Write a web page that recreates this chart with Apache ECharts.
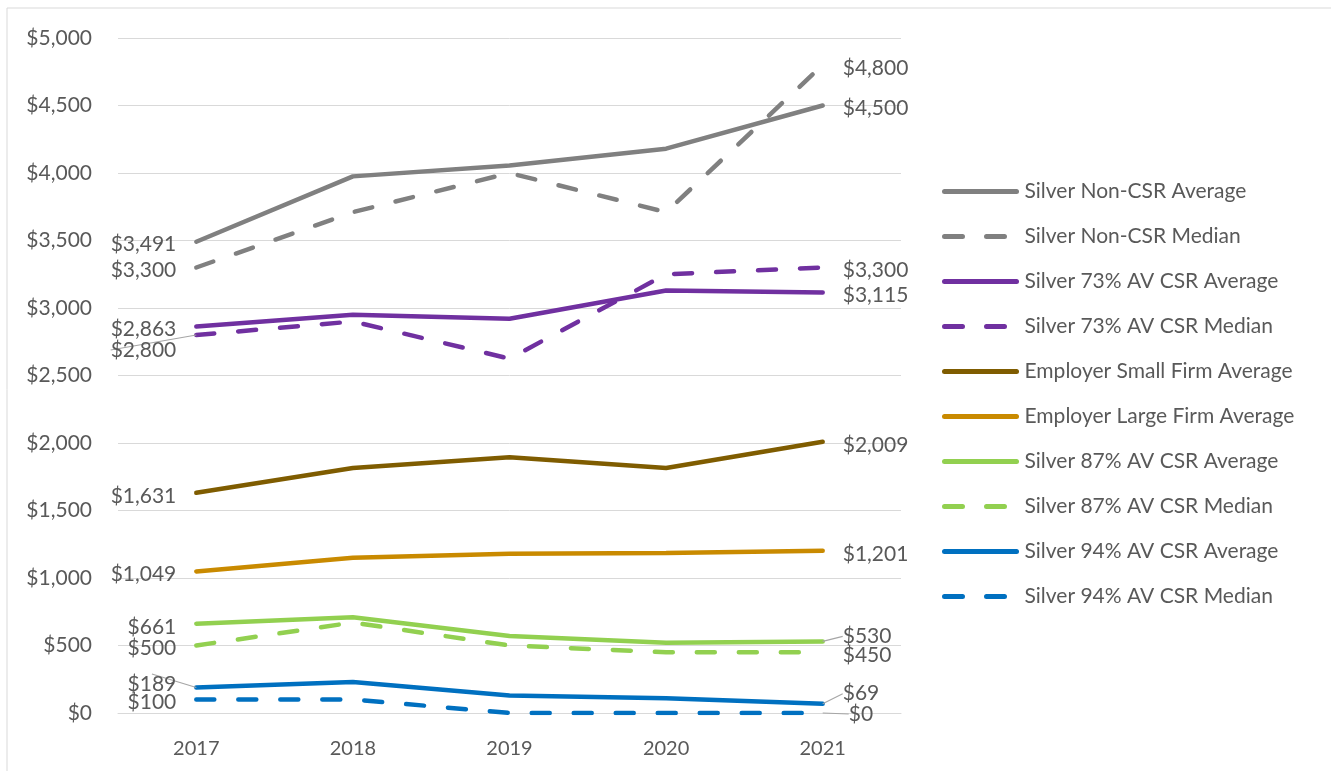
<!DOCTYPE html>
<html>
<head>
<meta charset="utf-8">
<script src="https://cdn.jsdelivr.net/npm/echarts@6/dist/echarts.min.js"></script>
<style>
  html, body { margin: 0; padding: 0; background: #fff; }
  #chart { width: 1331px; height: 771px; }
</style>
</head>
<body>
<div id="chart"></div>
<script>
// data
const years = ['2017', '2018', '2019', '2020', '2021']
const seriesNames = [
  'Silver Non-CSR Average', 'Silver Non-CSR Median',
  'Silver 73% AV CSR Average', 'Silver 73% AV CSR Median',
  'Employer Small Firm Average', 'Employer Large Firm Average',
  'Silver 87% AV CSR Average', 'Silver 87% AV CSR Median',
  'Silver 94% AV CSR Average', 'Silver 94% AV CSR Median'
]
const nonCsrAvg = [3491, 3975, 4055, 4180, 4500]
const nonCsrMed = [3300, 3710, 4000, 3710, 4800]
const csr73Avg = [2863, 2950, 2920, 3130, 3115]
const csr73Med = [2800, 2900, 2625, 3250, 3300]
const smallFirmAvg = [1631, 1815, 1895, 1815, 2009]
const largeFirmAvg = [1049, 1150, 1180, 1185, 1201]
const csr87Avg = [661, 710, 570, 520, 530]
const csr87Med = [500, 670, 500, 450, 450]
const csr94Avg = [189, 230, 130, 110, 69]
const csr94Med = [100, 100, 0, 0, 0]

const allValues = [nonCsrAvg, nonCsrMed, csr73Avg, csr73Med, smallFirmAvg,
  largeFirmAvg, csr87Avg, csr87Med, csr94Avg, csr94Med]

// styles
const colors = ['#808080', '#808080', '#7030a0', '#7030a0', '#7f5c00',
  '#c98a00', '#92d050', '#92d050', '#0070c0', '#0070c0']
const dashed = [false, true, false, true, false, false, false, true, false, true]
const textColor = '#595959'
const font = 'Lato'
const dash = [18, 24]

// label nudges: series index -> end (0 left, 1 right) -> [dx, dy, leader line]
const nudges = {
  3: { 0: [0, 12, true] },
  6: { 1: [0, -8, true] },
  8: { 0: [0, -6, true], 1: [0, -13, true] },
  9: { 1: [6, -2, true] }
}

const money = v => '$' + v.toLocaleString('en-US')

function buildData(values, si) {
  const last = values.length - 1
  return values.map((v, i) => {
    const item = { value: v }
    if (i === 0 || i === last) {
      const end = i === 0 ? 0 : 1
      const n = nudges[si] && nudges[si][end]
      item.label = {
        show: true,
        position: i === 0 ? 'left' : 'right',
        distance: 20,
        formatter: money(v)
      }
      if (n && n[2]) item.labelLine = { show: true }
    }
    return item
  })
}

const chart = echarts.init(document.getElementById('chart'))

const series = allValues.map((vals, si) => ({
  name: seriesNames[si],
  type: 'line',
  data: buildData(vals, si),
  symbol: 'circle',
  symbolSize: 0,
  showSymbol: true,
  color: colors[si],
  lineStyle: {
    width: 4.5,
    color: colors[si],
    type: dashed[si] ? dash : 'solid',
    cap: 'round'
  },
  label: {
    show: false,
    color: textColor,
    fontFamily: font,
    fontSize: 21
  },
  labelLine: {
    show: false,
    lineStyle: { color: '#a6a6a6', width: 1.2 }
  },
  labelLayout: function (p) {
    const end = p.dataIndex === 0 ? 0 : 1
    const n = nudges[si] && nudges[si][end]
    if (n) return { dx: n[0], dy: n[1] + 3 }
    return { dy: 3 }
  },
  emphasis: { disabled: true },
  z: 10 - si
}))

chart.setOption({
  animation: false,
  textStyle: { fontFamily: font },
  graphic: [
    { type: 'line', shape: { x1: 7, y1: 8, x2: 1331, y2: 8 }, style: { stroke: '#d9d9d9', lineWidth: 1 } },
    { type: 'line', shape: { x1: 7, y1: 8, x2: 7, y2: 771 }, style: { stroke: '#d9d9d9', lineWidth: 1 } }
  ],
  grid: {
    left: 118,
    right: 430,
    top: 38,
    bottom: 58
  },
  legend: {
    orient: 'vertical',
    left: 942,
    top: 181,
    padding: 0,
    itemWidth: 72,
    itemHeight: 14,
    itemGap: 24,
    data: seriesNames,
    itemStyle: { opacity: 0 },
    lineStyle: { width: 5 },
    textStyle: {
      color: textColor,
      fontFamily: font,
      fontSize: 21,
      lineHeight: 21,
      padding: [0, 0, 0, 3]
    }
  },
  xAxis: {
    type: 'category',
    data: years,
    boundaryGap: true,
    axisLine: { show: true, lineStyle: { color: '#d9d9d9', width: 1 } },
    axisTick: { show: false },
    axisLabel: {
      color: textColor,
      fontFamily: font,
      fontSize: 20,
      margin: 26
    }
  },
  yAxis: {
    type: 'value',
    min: 0,
    max: 5000,
    interval: 500,
    axisLine: { show: false },
    axisTick: { show: false },
    splitLine: { lineStyle: { color: '#d9d9d9', width: 1 } },
    axisLabel: {
      color: textColor,
      fontFamily: font,
      fontSize: 21,
      margin: 26,
      formatter: v => money(v)
    }
  },
  series: series
})
</script>
</body>
</html>
